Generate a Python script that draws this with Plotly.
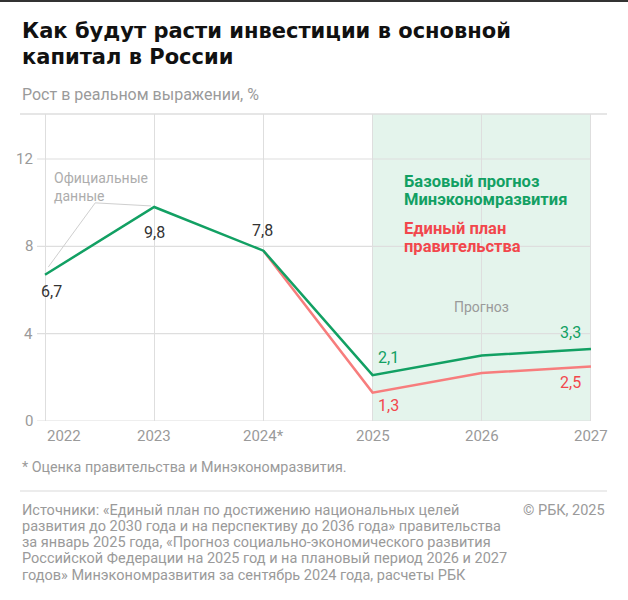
import plotly.graph_objects as go

# данные
years = [2022, 2023, 2024, 2025, 2026, 2027]
year_labels = ["2022", "2023", "2024*", "2025", "2026", "2027"]
base_forecast = [6.7, 9.8, 7.8, 2.1, 3.0, 3.3]      # Минэкономразвития
gov_years = [2024, 2025, 2026, 2027]
gov_plan = [7.8, 1.3, 2.2, 2.5]                      # Единый план правительства
y_ticks = [0, 4, 8, 12]

GREEN = "#12a063"
RED_LINE = "#f77d7d"
RED_TEXT = "#f2474c"
GRAY = "#9a9a9a"
GRID = "#dedede"
FONT = "Roboto"

X0, X1 = 2021.771, 2027.147
Y1 = 14.06

fig = go.Figure()

fig.add_trace(go.Scatter(x=gov_years, y=gov_plan, mode="lines",
                         line=dict(color=RED_LINE, width=2.5), hoverinfo="skip"))
fig.add_trace(go.Scatter(x=years, y=base_forecast, mode="lines",
                         line=dict(color=GREEN, width=2.5), hoverinfo="skip"))

shapes = [
    # зона прогноза
    dict(type="rect", xref="x", yref="y", x0=2025, x1=2027, y0=0, y1=Y1,
         fillcolor="#e4f4ec", line_width=0, layer="below"),
    # верхняя линия
    dict(type="line", xref="paper", yref="paper", x0=0, x1=1, y0=1, y1=1,
         line=dict(color=GRID, width=1.5)),
    # разделитель над источниками
    dict(type="line", xref="paper", yref="paper", x0=0, x1=1,
         y0=-0.228, y1=-0.228, line=dict(color="#e6e6e6", width=1.5)),
    # выноска "Официальные данные"
    dict(type="path", xref="x", yref="y",
         path="M 2022.03 7.05 L 2022.46 9.99 L 2022.97 9.85",
         line=dict(color="#cfcfcf", width=1)),
]
for t in y_ticks:
    shapes.append(dict(type="line", xref="x", yref="y", x0=2021.927, x1=2027,
                       y0=t, y1=t, line=dict(color=GRID, width=1.2), layer="below"))

annotations = []
for t in y_ticks:
    annotations.append(dict(x=2021.91, y=t, xref="x", yref="y", text=str(t),
                            showarrow=False, xanchor="right", yanchor="middle",
                            font=dict(size=15, color=GRAY)))

# подписи оси X (первая выровнена по левому краю)
for i, (yr, lab) in enumerate(zip(years, year_labels)):
    annotations.append(dict(x=yr, y=0, xref="x", yref="y", text=lab, showarrow=False,
                            xanchor="left" if i == 0 else "center", yanchor="middle",
                            yshift=-15, font=dict(size=15, color=GRAY)))

# подписи значений
value_labels = [
    (2022, 6.7, "6,7", "#333333", 6, -17),
    (2023, 9.8, "9,8", "#333333", 0, -25),
    (2024, 7.8, "7,8", "#333333", -1, 20),
    (2025, 2.1, "2,1", GREEN, 16, 18),
    (2025, 1.3, "1,3", RED_TEXT, 16, -13),
    (2027, 3.3, "3,3", GREEN, -20, 16),
    (2027, 2.5, "2,5", RED_TEXT, -20, -16),
]
for x, y, txt, col, dx, dy in value_labels:
    annotations.append(dict(x=x, y=y, xref="x", yref="y", text=txt, showarrow=False,
                            xanchor="center", yanchor="middle", xshift=dx, yshift=dy,
                            font=dict(size=16, color=col)))

# текстовые блоки построчно (чтобы задать межстрочный интервал)
text_lines = [
    # (x, y, текст, цвет, размер, жирный)
    (2022.06, 11.13, "Официальные", "#adadad", 14, False),
    (2022.06, 10.30, "данные", "#adadad", 14, False),
    (2025.27, 10.95, "Базовый прогноз", GREEN, 16.5, True),
    (2025.27, 10.13, "Минэкономразвития", GREEN, 16.5, True),
    (2025.27, 8.80, "Единый план", RED_TEXT, 16.5, True),
    (2025.27, 7.97, "правительства", RED_TEXT, 16.5, True),
]
for x, y, txt, col, size, bold in text_lines:
    annotations.append(dict(x=x, y=y, xref="x", yref="y",
                            text=f"<b>{txt}</b>" if bold else txt, showarrow=False,
                            xanchor="left", yanchor="middle",
                            font=dict(size=size, color=col)))

annotations.append(dict(x=2026, y=5.2, xref="x", yref="y", text="Прогноз",
                        showarrow=False, xanchor="center", yanchor="middle",
                        font=dict(size=14, color=GRAY)))

# заголовок
for txt, shift in [("Как будут расти инвестиции в основной", 83),
                   ("капитал в России", 57)]:
    annotations.append(dict(x=0, y=1.0, xref="paper", yref="paper", yshift=shift,
                            text=f"<b>{txt}</b>", showarrow=False,
                            xanchor="left", yanchor="middle",
                            font=dict(family="DejaVu Sans", size=21, color="#111111")))

annotations.append(dict(x=0, y=1.0, xref="paper", yref="paper", yshift=20,
                        text="Рост в реальном выражении, %", showarrow=False,
                        xanchor="left", yanchor="middle", font=dict(size=16, color=GRAY)))

# сноска и источники
annotations.append(dict(x=0, y=0, xref="paper", yref="paper", yshift=-46,
                        text="* Оценка правительства и Минэкономразвития.", showarrow=False,
                        xanchor="left", yanchor="middle", font=dict(size=14.3, color=GRAY)))
source_lines = [
    "Источники: «Единый план по достижению национальных целей",
    "развития до 2030 года и на перспективу до 2036 года» правительства",
    "за январь 2025 года, «Прогноз социально-экономического развития",
    "Российской Федерации на 2025 год и на плановый период 2026 и 2027",
    "годов» Минэкономразвития за сентябрь 2024 года, расчеты РБК",
]
for i, line in enumerate(source_lines):
    annotations.append(dict(x=0, y=0, xref="paper", yref="paper", yshift=-89 - 16.3 * i,
                            text=line, showarrow=False, xanchor="left", yanchor="middle",
                            font=dict(size=14.5, color=GRAY)))
annotations.append(dict(x=1, y=0, xref="paper", yref="paper", yshift=-89,
                        text="© РБК, 2025", showarrow=False, xanchor="right",
                        yanchor="middle", font=dict(size=14.5, color=GRAY)))

fig.update_layout(
    width=628, height=600,
    margin=dict(l=20, r=21, t=114, b=179),
    paper_bgcolor="white", plot_bgcolor="white",
    showlegend=False,
    font=dict(family=FONT, color=GRAY),
    shapes=shapes, annotations=annotations,
    xaxis=dict(range=[X0, X1], tickvals=years, showticklabels=False,
               showgrid=True, gridcolor=GRID, gridwidth=1.2, zeroline=False,
               showline=False, ticks="", fixedrange=True),
    yaxis=dict(range=[0, Y1], showgrid=False, zeroline=False, showline=False,
               showticklabels=False, fixedrange=True),
)

# убираем отступ страницы и добавляем тёмную полосу по верхнему краю
post = (
    "document.body.style.margin='0px';"
    "var bar=document.createElement('div');"
    "bar.style.cssText='position:fixed;top:0;left:0;width:100%;height:2px;"
    "background:#333;z-index:10;';"
    "document.body.appendChild(bar);"
)
fig.write_html("out.html", config={"displayModeBar": False}, post_script=post)
